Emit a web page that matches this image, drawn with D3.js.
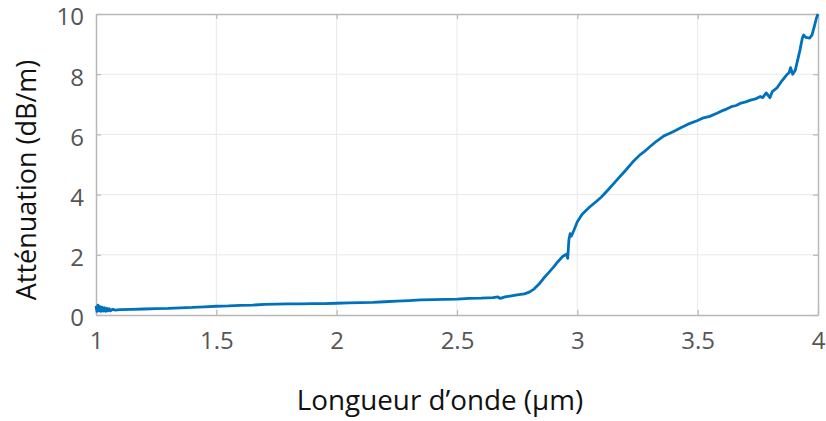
<!DOCTYPE html>
<html><head><meta charset="utf-8">
<script src="https://cdn.jsdelivr.net/npm/d3@7"></script>
<style>html,body{margin:0;padding:0;background:#fff;}svg{display:block;}</style>
</head><body>
<svg id="c" width="826" height="421"></svg>
<script>
const wavelength = [1.00,1.004,1.008,1.012,1.016,1.02,1.025,1.03,1.035,1.04,1.045,1.05,1.055,1.06,1.07,1.08,1.10,1.15,1.2,1.25,1.3,1.35,1.4,1.45,1.5,1.55,1.6,1.65,1.7,1.75,1.8,1.85,1.9,1.95,2.0,2.05,2.1,2.15,2.2,2.25,2.3,2.35,2.4,2.45,2.5,2.55,2.6,2.65,2.67,2.68,2.7,2.72,2.75,2.78,2.8,2.82,2.84,2.86,2.88,2.9,2.92,2.94,2.955,2.96,2.965,2.97,2.975,2.985,3.0,3.02,3.05,3.08,3.1,3.13,3.16,3.2,3.23,3.26,3.28,3.3,3.33,3.36,3.38,3.4,3.43,3.46,3.5,3.52,3.55,3.58,3.6,3.62,3.64,3.66,3.68,3.7,3.72,3.74,3.76,3.77,3.785,3.8,3.81,3.83,3.85,3.87,3.88,3.886,3.895,3.905,3.915,3.925,3.935,3.94,3.95,3.965,3.975,3.985,3.993,4.0];
const attenuation = [0.30,0.12,0.33,0.14,0.28,0.12,0.26,0.13,0.24,0.12,0.22,0.14,0.21,0.14,0.19,0.16,0.18,0.19,0.20,0.21,0.22,0.24,0.25,0.27,0.29,0.30,0.32,0.33,0.35,0.36,0.37,0.37,0.38,0.38,0.39,0.40,0.41,0.42,0.44,0.46,0.48,0.50,0.51,0.52,0.53,0.55,0.56,0.58,0.60,0.55,0.60,0.63,0.67,0.70,0.76,0.86,1.02,1.22,1.40,1.58,1.78,1.95,2.02,1.88,2.50,2.70,2.62,2.80,3.10,3.35,3.58,3.78,3.92,4.18,4.45,4.80,5.08,5.32,5.44,5.58,5.78,5.95,6.02,6.10,6.22,6.34,6.46,6.54,6.60,6.70,6.78,6.84,6.92,6.96,7.04,7.08,7.14,7.18,7.26,7.22,7.38,7.22,7.42,7.55,7.78,7.98,8.05,8.22,8.00,8.12,8.45,8.80,9.20,9.30,9.22,9.20,9.30,9.60,9.85,10.0];
const xTicks = [1,1.5,2,2.5,3,3.5,4];
const xTickLabels = ["1","1.5","2","2.5","3","3.5","4"];
const yTicks = [0,2,4,6,8,10];
const yTickLabels = ["0","2","4","6","8","10"];
const xTitle = "Longueur d\u2019onde (\u00b5m)";
const yTitle = "Att\u00e9nuation (dB/m)";

const data = wavelength.map((w,i)=>({x:w,y:attenuation[i]}));
const svg = d3.select("#c");
const L=96,R=818,T=14,B=315;
const x = d3.scaleLinear().domain([1,4]).range([L,R]);
const y = d3.scaleLinear().domain([0,10]).range([B,T]);
const font = "'Open Sans', sans-serif";

// grid
svg.append("g").selectAll("line").data(xTicks.slice(1,-1)).join("line")
  .attr("x1",d=>x(d)).attr("x2",d=>x(d)).attr("y1",T).attr("y2",B)
  .attr("stroke","#e8e8e8").attr("stroke-width",1);
svg.append("g").selectAll("line").data(yTicks.slice(1,-1)).join("line")
  .attr("x1",L).attr("x2",R).attr("y1",d=>y(d)).attr("y2",d=>y(d))
  .attr("stroke","#e8e8e8").attr("stroke-width",1);

// axes with inward ticks
const gx = svg.append("g").attr("transform",`translate(0,${B})`)
  .call(d3.axisBottom(x).tickValues(xTicks).tickFormat((d,i)=>xTickLabels[i]).tickSizeInner(-5).tickSizeOuter(0).tickPadding(17));
const gxt = svg.append("g").attr("transform",`translate(0,${T})`)
  .call(d3.axisTop(x).tickValues(xTicks).tickFormat("").tickSizeInner(-5).tickSizeOuter(0));
const gy = svg.append("g").attr("transform",`translate(${L},0)`)
  .call(d3.axisLeft(y).tickValues(yTicks).tickFormat((d,i)=>yTickLabels[i]).tickSizeInner(-5).tickSizeOuter(0).tickPadding(12));
const gyr = svg.append("g").attr("transform",`translate(${R},0)`)
  .call(d3.axisRight(y).tickValues(yTicks).tickFormat("").tickSizeInner(-5).tickSizeOuter(0));
[gx,gxt,gy,gyr].forEach(g=>{
  g.select(".domain").attr("stroke","#b8b8b8").attr("stroke-width",1.5);
  g.selectAll(".tick line").attr("stroke","#b8b8b8").attr("stroke-width",1.2);
  g.selectAll(".tick text").attr("fill","#555").style("font-family",font).style("font-size","24px");
});
gy.selectAll(".tick text").attr("dy","0.45em");

// line
svg.append("path").datum(data)
  .attr("fill","none").attr("stroke","#0072BD").attr("stroke-width",2.8)
  .attr("stroke-linejoin","round")
  .attr("d",d3.line().x(d=>x(d.x)).y(d=>y(d.y)));

// titles
svg.append("text").attr("x",440).attr("y",410).attr("text-anchor","middle")
  .style("font-family",font).style("font-size","27.8px").attr("fill","#111").text(xTitle);
svg.append("text").attr("transform",`translate(36,180) rotate(-90)`).attr("text-anchor","middle")
  .style("font-family",font).style("font-size","27px").attr("fill","#111").text(yTitle);
</script>
</body></html>
